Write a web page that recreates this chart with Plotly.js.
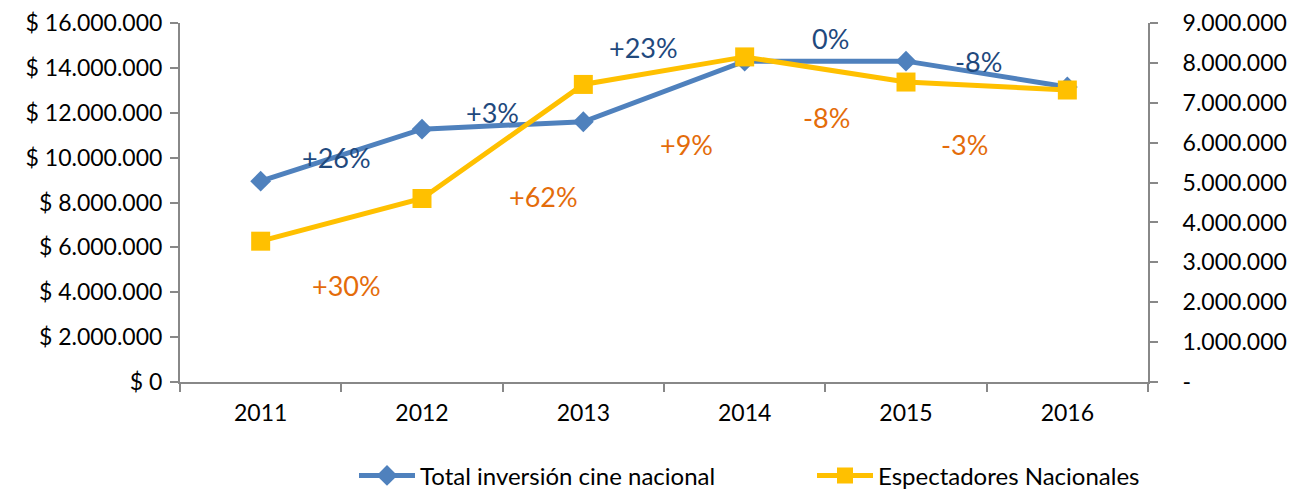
<!DOCTYPE html>
<html>
<head>
<meta charset="utf-8">
<script src="https://cdn.plot.ly/plotly-3.0.1.min.js"></script>
<style>
  html, body { margin: 0; padding: 0; background: #fff; }
  #chart { width: 1292px; height: 489px; }
</style>
</head>
<body>
<div id="chart"></div>
<script>
const years = ['2011', '2012', '2013', '2014', '2015', '2016'];
const inversion = [8950000, 11270000, 11600000, 14300000, 14300000, 13150000];
const espectadores = [3530000, 4600000, 7460000, 8150000, 7520000, 7320000];

const inversionLabels = ['+26%', '+3%', '+23%', '0%', '-8%'];
const espectadoresLabels = ['+30%', '+62%', '+9%', '-8%', '-3%'];

const leftTicks = [0, 2e6, 4e6, 6e6, 8e6, 10e6, 12e6, 14e6, 16e6];
const rightTicks = [0, 1e6, 2e6, 3e6, 4e6, 5e6, 6e6, 7e6, 8e6, 9e6];

function fmt(v) {
  return String(v).replace(/\B(?=(\d{3})+(?!\d))/g, '.');
}

const BLUE = '#4F81BD';
const YELLOW = '#FFC000';
const BLUE_TXT = '#1F497D';
const ORANGE_TXT = '#E46C0A';
const AXIS = '#888888';
const FONT = 'Lato, "Open Sans", sans-serif';

const traces = [
  {
    x: years, y: inversion,
    type: 'scatter', mode: 'lines+markers',
    name: 'Total inversión cine nacional', legend: 'legend',
    line: { color: BLUE, width: 5 },
    marker: { symbol: 'diamond', size: 16, color: BLUE }
  },
  {
    x: years, y: espectadores, yaxis: 'y2',
    type: 'scatter', mode: 'lines+markers',
    name: 'Espectadores Nacionales', legend: 'legend2',
    line: { color: YELLOW, width: 5 },
    marker: { symbol: 'square', size: 19, color: YELLOW }
  }
];

// label placement (category index, left-axis value)
const bluePos = [[0.47, 10.0e6], [1.44, 12.0e6], [2.37, 14.9e6], [3.53, 15.3e6], [4.45, 14.27e6]];
const orangePos = [[0.53, 4.32e6], [1.75, 8.25e6], [2.64, 10.6e6], [3.51, 11.77e6], [4.36, 10.6e6]];

const annotations = [];
inversionLabels.forEach((t, i) => annotations.push({
  x: bluePos[i][0], y: bluePos[i][1], xref: 'x', yref: 'y', text: t,
  showarrow: false, font: { family: FONT, size: 27, color: BLUE_TXT }
}));
espectadoresLabels.forEach((t, i) => annotations.push({
  x: orangePos[i][0], y: orangePos[i][1], xref: 'x', yref: 'y', text: t,
  showarrow: false, font: { family: FONT, size: 27, color: ORANGE_TXT }
}));

const tickFont = { family: FONT, size: 23, color: '#000' };
const legendBase = {
  orientation: 'h', xref: 'container', yref: 'container',
  y: 0.027, yanchor: 'middle', xanchor: 'left', itemwidth: 56,
  bgcolor: 'rgba(0,0,0,0)',
  font: { family: FONT, size: 24, color: '#000' }
};

const layout = {
  width: 1292, height: 489,
  margin: { l: 179.5, r: 143.7, t: 23.3, b: 107.3 },
  paper_bgcolor: '#fff', plot_bgcolor: '#fff',
  font: { family: FONT, color: '#000' },
  showlegend: true,
  legend: Object.assign({}, legendBase, { x: 354 / 1292 }),
  legend2: Object.assign({}, legendBase, { x: 812 / 1292 }),
  xaxis: {
    type: 'category', tickson: 'boundaries',
    showline: true, linecolor: AXIS, linewidth: 2,
    ticks: 'outside', ticklen: 8, tickcolor: AXIS, tickwidth: 2,
    showgrid: false, zeroline: false, tickfont: tickFont,
    range: [-0.5, 5.5], ticklabelstandoff: 9
  },
  yaxis: {
    range: [0, 16e6], tickvals: leftTicks,
    ticktext: leftTicks.map(v => '$ ' + fmt(v)),
    showline: true, linecolor: AXIS, linewidth: 2,
    ticks: 'outside', ticklen: 8, tickcolor: AXIS, tickwidth: 2,
    showgrid: false, zeroline: false, tickfont: tickFont,
    ticklabelstandoff: 3
  },
  yaxis2: {
    overlaying: 'y', side: 'right',
    range: [0, 9e6], tickvals: rightTicks,
    ticktext: rightTicks.map(v => v === 0 ? '-' : fmt(v)),
    showline: true, linecolor: AXIS, linewidth: 2,
    ticks: 'outside', ticklen: 8, tickcolor: AXIS, tickwidth: 2,
    showgrid: false, zeroline: false, tickfont: tickFont,
    ticklabelstandoff: 20
  },
  annotations: annotations
};

Plotly.newPlot('chart', traces, layout, { displayModeBar: false, staticPlot: true });
</script>
</body>
</html>
